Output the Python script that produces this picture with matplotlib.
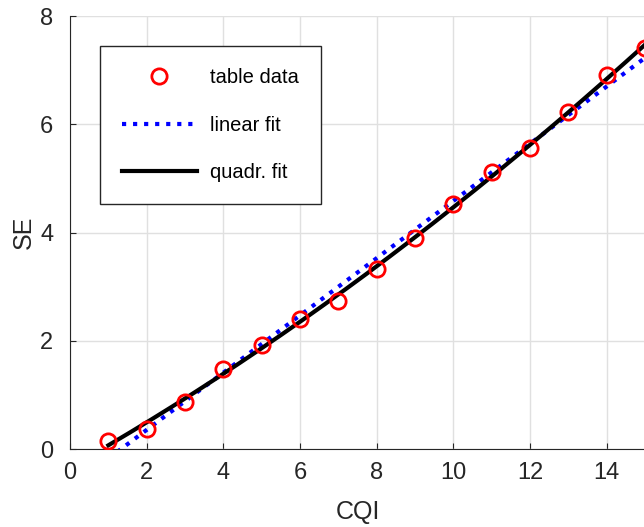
import numpy as np
import matplotlib
matplotlib.use("Agg")
import matplotlib.pyplot as plt

# CQI table (256QAM) spectral efficiency
cqi = [1, 2, 3, 4, 5, 6, 7, 8, 9, 10, 11, 12, 13, 14, 15]
se = [0.1523, 0.3770, 0.8770, 1.4766, 1.9141, 2.4063, 2.7305, 3.3223,
      3.9023, 4.5234, 5.1152, 5.5547, 6.2266, 6.9141, 7.4063]

plt.rcParams['font.family'] = ['Liberation Sans', 'DejaVu Sans']

x = np.array(cqi, dtype=float)
y = np.array(se)
p1 = np.polyfit(x, y, 1)
p2 = np.polyfit(x, y, 2)
xf = np.linspace(1, 15, 200)

fig = plt.figure(figsize=(6.44, 5.27), dpi=100)
ax = fig.add_axes([0.1087, 0.148, 0.893, 0.8216])

ax.plot(x, y, 'o', mfc='none', mec='red', ms=11, mew=2, label='table data', zorder=4)
ax.plot(xf, np.polyval(p1, xf), ':', color='blue', lw=3, label='linear fit', zorder=3)
ax.plot(xf, np.polyval(p2, xf), '-', color='black', lw=3, label='quadr. fit', zorder=3)

ax.set_xlim(0, 15)
ax.set_ylim(0, 8)
ax.set_xticks(range(0, 16, 2))
ax.set_yticks(range(0, 9, 2))
ax.grid(True, color='#e0e0e0', lw=1)
ax.set_axisbelow(True)
for s in ['top', 'right']:
    ax.spines[s].set_visible(False)
for s in ['left', 'bottom']:
    ax.spines[s].set_color('#262626')
ax.tick_params(direction='in', labelsize=17, colors='#262626', length=4)
ax.tick_params(axis='x', pad=9)
ax.tick_params(axis='y', pad=12)
ax.set_xlabel('CQI', fontsize=18, color='#262626', labelpad=12)
ax.set_ylabel('SE', fontsize=18, color='#262626', labelpad=3)

leg = ax.legend(loc='upper left', bbox_to_anchor=(0.052, 0.93), fontsize=14.5,
                fancybox=False, framealpha=1, edgecolor='#262626',
                borderpad=1.1, labelspacing=1.4, handlelength=3.7, handletextpad=0.65,
                borderaxespad=0)
leg.get_frame().set_linewidth(1)

fig.savefig('out.png', dpi=100)
